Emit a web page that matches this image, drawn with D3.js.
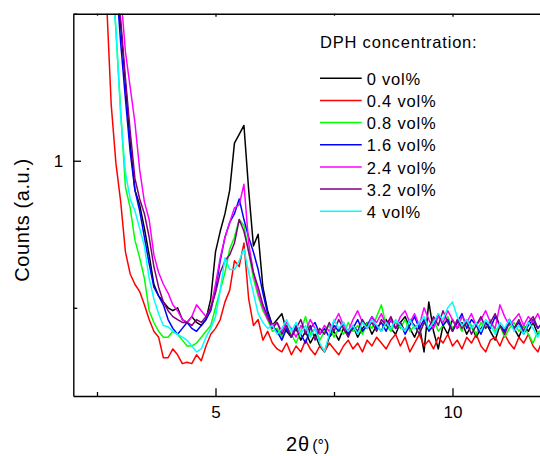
<!DOCTYPE html>
<html>
<head>
<meta charset="utf-8">
<script src="https://cdnjs.cloudflare.com/ajax/libs/d3/7.8.5/d3.min.js"></script>
<style>
  body { margin: 0; background: #fff; }
  svg { display: block; font-family: "Liberation Sans", Arial, sans-serif; }
</style>
</head>
<body>
<svg id="chart" width="540" height="456"></svg>
<script>
// 2theta grid (deg)
var twoTheta = [2.6, 2.7, 2.8, 2.9, 3.0, 3.1, 3.2, 3.3, 3.4, 3.5, 3.6, 3.7, 3.8, 3.9, 4.0, 4.1, 4.2, 4.3, 4.4, 4.5,
  4.6, 4.7, 4.8, 4.9, 5.0, 5.1, 5.2, 5.3, 5.4, 5.5, 5.6, 5.7, 5.8, 5.9, 6.0, 6.1, 6.2, 6.3, 6.4, 6.5,
  6.6, 6.7, 6.8, 6.9, 7.0, 7.1, 7.2, 7.3, 7.4, 7.5, 7.6, 7.7, 7.8, 7.9, 8.0, 8.1, 8.2, 8.3, 8.4, 8.5,
  8.6, 8.7, 8.8, 8.9, 9.0, 9.1, 9.2, 9.3, 9.4, 9.5, 9.6, 9.7, 9.8, 9.9, 10.0, 10.1, 10.2, 10.3, 10.4, 10.5,
  10.6, 10.7, 10.8, 10.9, 11.0, 11.1, 11.2, 11.3, 11.4, 11.5, 11.6, 11.7, 11.8, 11.9];

// counts per DPH concentration
var dph0 = [2.2, 1.95, 1.72, 1.58, 1.46, 1.26, 1.06, 0.90, 0.85, 0.77, 0.68, 0.58, 0.54, 0.52, 0.50, 0.49, 0.50, 0.46, 0.45, 0.47,
  0.45, 0.44, 0.46, 0.53, 0.69, 0.76, 0.82, 0.90, 1.06, 1.09, 1.12, 0.90, 0.71, 0.75, 0.57, 0.49, 0.44, 0.46, 0.48, 0.42,
  0.40, 0.43, 0.39, 0.42, 0.38, 0.41, 0.37, 0.35, 0.40, 0.42, 0.39, 0.43, 0.41, 0.44, 0.40, 0.43, 0.45, 0.41, 0.44, 0.42,
  0.46, 0.43, 0.41, 0.45, 0.47, 0.43, 0.40, 0.44, 0.35, 0.52, 0.42, 0.36, 0.44, 0.41, 0.46, 0.43, 0.45, 0.41, 0.44, 0.40,
  0.43, 0.45, 0.42, 0.39, 0.44, 0.42, 0.46, 0.43, 0.40, 0.44, 0.42, 0.45, 0.41, 0.43];
var dph04 = [1.85, 1.55, 1.19, 0.99, 0.86, 0.69, 0.615, 0.58, 0.555, 0.51, 0.46, 0.42, 0.40, 0.33, 0.33, 0.36, 0.34, 0.31, 0.315, 0.31,
  0.34, 0.32, 0.37, 0.41, 0.43, 0.46, 0.52, 0.56, 0.66, 0.64, 0.72, 0.53, 0.44, 0.46, 0.39, 0.42, 0.38, 0.36, 0.35, 0.38,
  0.34, 0.37, 0.35, 0.39, 0.36, 0.34, 0.37, 0.35, 0.38, 0.36, 0.34, 0.37, 0.39, 0.36, 0.38, 0.35, 0.39, 0.37, 0.40, 0.38,
  0.36, 0.39, 0.41, 0.37, 0.40, 0.35, 0.38, 0.41, 0.37, 0.39, 0.36, 0.40, 0.38, 0.41, 0.37, 0.39, 0.36, 0.40, 0.38, 0.41,
  0.37, 0.35, 0.39, 0.40, 0.37, 0.41, 0.38, 0.36, 0.40, 0.38, 0.41, 0.37, 0.35, 0.39];
var dph08 = [2.2, 1.98, 1.72, 1.44, 1.17, 0.91, 0.84, 0.73, 0.67, 0.60, 0.49, 0.45, 0.42, 0.40, 0.40, 0.42, 0.41, 0.39, 0.37, 0.37,
  0.38, 0.40, 0.42, 0.44, 0.50, 0.56, 0.62, 0.70, 0.74, 0.80, 0.78, 0.69, 0.60, 0.54, 0.49, 0.46, 0.42, 0.43, 0.40, 0.44,
  0.41, 0.38, 0.42, 0.47, 0.41, 0.43, 0.39, 0.42, 0.44, 0.40, 0.43, 0.41, 0.45, 0.42, 0.44, 0.41, 0.45, 0.43, 0.47, 0.51,
  0.44, 0.42, 0.45, 0.43, 0.46, 0.42, 0.44, 0.41, 0.45, 0.43, 0.46, 0.42, 0.44, 0.47, 0.43, 0.45, 0.42, 0.46, 0.44, 0.41,
  0.45, 0.43, 0.46, 0.42, 0.44, 0.40, 0.43, 0.45, 0.42, 0.44, 0.41, 0.38, 0.42, 0.40];
var dph16 = [2.15, 1.95, 1.78, 1.62, 1.40, 1.21, 1.03, 0.90, 0.83, 0.74, 0.65, 0.57, 0.54, 0.51, 0.46, 0.43, 0.41, 0.43, 0.45, 0.43,
  0.42, 0.44, 0.46, 0.49, 0.56, 0.66, 0.74, 0.79, 0.82, 0.87, 0.80, 0.74, 0.69, 0.63, 0.55, 0.48, 0.44, 0.42, 0.39, 0.43,
  0.40, 0.44, 0.41, 0.38, 0.43, 0.45, 0.41, 0.43, 0.40, 0.44, 0.42, 0.45, 0.41, 0.43, 0.46, 0.42, 0.44, 0.47, 0.43, 0.45,
  0.42, 0.46, 0.43, 0.45, 0.41, 0.44, 0.47, 0.43, 0.46, 0.42, 0.44, 0.48, 0.44, 0.46, 0.42, 0.45, 0.48, 0.43, 0.46, 0.44,
  0.41, 0.45, 0.43, 0.47, 0.44, 0.42, 0.46, 0.43, 0.45, 0.41, 0.44, 0.46, 0.43, 0.45];
var dph24 = [2.3, 2.05, 1.85, 1.70, 1.57, 1.37, 1.25, 1.13, 0.97, 0.86, 0.80, 0.68, 0.62, 0.58, 0.55, 0.51, 0.49, 0.46, 0.45, 0.47,
  0.51, 0.49, 0.47, 0.50, 0.58, 0.67, 0.74, 0.79, 0.84, 0.85, 0.92, 0.72, 0.62, 0.55, 0.50, 0.46, 0.44, 0.45, 0.42, 0.45,
  0.43, 0.40, 0.44, 0.42, 0.46, 0.43, 0.41, 0.44, 0.42, 0.45, 0.48, 0.44, 0.42, 0.46, 0.49, 0.45, 0.43, 0.47, 0.45, 0.48,
  0.44, 0.46, 0.43, 0.47, 0.49, 0.45, 0.48, 0.44, 0.50, 0.46, 0.43, 0.47, 0.45, 0.49, 0.46, 0.43, 0.47, 0.45, 0.48, 0.44,
  0.46, 0.49, 0.45, 0.43, 0.51, 0.47, 0.44, 0.46, 0.48, 0.44, 0.47, 0.45, 0.48, 0.44];
var dph32 = [2.15, 1.92, 1.74, 1.61, 1.48, 1.28, 1.10, 0.94, 0.87, 0.82, 0.74, 0.64, 0.57, 0.52, 0.49, 0.47, 0.46, 0.45, 0.45, 0.44,
  0.46, 0.45, 0.47, 0.50, 0.55, 0.62, 0.66, 0.68, 0.72, 0.80, 0.76, 0.69, 0.62, 0.57, 0.51, 0.47, 0.43, 0.45, 0.41, 0.44,
  0.40, 0.43, 0.46, 0.41, 0.44, 0.39, 0.43, 0.41, 0.45, 0.42, 0.46, 0.43, 0.40, 0.44, 0.42, 0.46, 0.43, 0.45, 0.42, 0.46,
  0.44, 0.47, 0.43, 0.45, 0.42, 0.46, 0.44, 0.41, 0.45, 0.43, 0.47, 0.44, 0.49, 0.45, 0.42, 0.46, 0.43, 0.45, 0.41, 0.44,
  0.47, 0.43, 0.45, 0.48, 0.44, 0.41, 0.45, 0.43, 0.46, 0.42, 0.45, 0.47, 0.43, 0.45];
var dph40 = [2.0, 1.78, 1.62, 1.45, 1.15, 0.96, 0.87, 0.83, 0.77, 0.71, 0.60, 0.53, 0.48, 0.44, 0.435, 0.42, 0.41, 0.40, 0.39, 0.37,
  0.35, 0.36, 0.40, 0.43, 0.47, 0.56, 0.67, 0.63, 0.63, 0.66, 0.70, 0.62, 0.55, 0.48, 0.45, 0.43, 0.44, 0.41, 0.43, 0.46,
  0.42, 0.45, 0.41, 0.44, 0.40, 0.43, 0.38, 0.35, 0.41, 0.46, 0.43, 0.45, 0.42, 0.44, 0.41, 0.45, 0.43, 0.46, 0.44, 0.42,
  0.45, 0.43, 0.46, 0.44, 0.42, 0.46, 0.43, 0.45, 0.47, 0.43, 0.45, 0.48, 0.46, 0.50, 0.52, 0.47, 0.44, 0.46, 0.43, 0.45,
  0.42, 0.46, 0.44, 0.41, 0.45, 0.43, 0.46, 0.42, 0.44, 0.41, 0.45, 0.43, 0.40, 0.44];

var seriesLabels = ["0 vol%", "0.4 vol%", "0.8 vol%", "1.6 vol%", "2.4 vol%", "3.2 vol%", "4 vol%"];
var seriesValues = [dph0, dph04, dph08, dph16, dph24, dph32, dph40];
var seriesColors = ["#000000", "#ff0000", "#00ff00", "#0000ff", "#ff00ff", "#800080", "#00ffff"];

var xTicks = [5, 10];
var xMinorTicks = [2.5, 7.5];
var yTicks = [1];
var yMinorTicks = [0.5, 1.5];

var svg = d3.select("#chart");
svg.append("rect").attr("width", 540).attr("height", 456).attr("fill", "#fff");

var x = d3.scaleLinear().domain([2, 12]).range([73.3, 547.3]);
var y = d3.scaleLinear().domain([0.2, 1.5]).range([396, 13.7]);

svg.append("clipPath").attr("id", "plotClip")
  .append("rect")
  .attr("x", x.range()[0]).attr("y", y.range()[1])
  .attr("width", x.range()[1] - x.range()[0])
  .attr("height", y.range()[0] - y.range()[1]);

// curves
var line = d3.line()
  .x((d, i) => x(twoTheta[i]))
  .y((d) => y(d));

var plot = svg.append("g").attr("clip-path", "url(#plotClip)");
seriesValues.forEach((vals, i) => {
  plot.append("path")
    .attr("d", line(vals))
    .attr("fill", "none")
    .attr("stroke", seriesColors[i])
    .attr("stroke-width", 1.5)
    .attr("stroke-linejoin", "round");
});

// axes (ticks point inward)
function styleAxis(g, fontSize) {
  g.select(".domain").attr("stroke", "#000").attr("stroke-width", 1.4);
  g.selectAll(".tick line").attr("stroke", "#000").attr("stroke-width", 1.3);
  g.selectAll(".tick text").attr("fill", "#000").style("font-size", fontSize + "px")
    .style("font-family", "'Liberation Sans', Arial, sans-serif");
}

var bottomAxis = svg.append("g").attr("transform", "translate(0,396)")
  .call(d3.axisBottom(x).tickValues(xTicks).tickSize(-7.7).tickSizeOuter(0).tickPadding(10));
styleAxis(bottomAxis, 17);
var bottomMinor = svg.append("g").attr("transform", "translate(0,396)")
  .call(d3.axisBottom(x).tickValues(xMinorTicks).tickSize(-4).tickFormat(""));
styleAxis(bottomMinor, 17);
bottomMinor.select(".domain").remove();

var topAxis = svg.append("g").attr("transform", "translate(0,13.7)")
  .call(d3.axisTop(x).tickValues(xTicks).tickSize(-3).tickSizeOuter(0).tickFormat(""));
styleAxis(topAxis, 17);
var topMinor = svg.append("g").attr("transform", "translate(0,13.7)")
  .call(d3.axisTop(x).tickValues(xMinorTicks).tickSize(-2).tickFormat(""));
styleAxis(topMinor, 17);
topMinor.select(".domain").remove();

var leftAxis = svg.append("g").attr("transform", "translate(73.3,0)")
  .call(d3.axisLeft(y).tickValues(yTicks).tickSize(-7.7).tickSizeOuter(0).tickPadding(10).tickFormat(d3.format("d")));
styleAxis(leftAxis, 17);
var leftMinor = svg.append("g").attr("transform", "translate(73.3,0)")
  .call(d3.axisLeft(y).tickValues(yMinorTicks).tickSize(-4).tickFormat(""));
styleAxis(leftMinor, 17);
leftMinor.select(".domain").remove();

// axis titles
svg.append("text")
  .attr("transform", "translate(29,220) rotate(-90)")
  .attr("text-anchor", "middle")
  .style("font-size", "20px")
  .style("letter-spacing", "0.6px")
  .text("Counts (a.u.)");

var xTitle = svg.append("text")
  .attr("x", 286).attr("y", 451);
xTitle.append("tspan").style("font-size", "20px").style("letter-spacing", "1px").text("2θ");
xTitle.append("tspan").attr("dx", 2).style("font-size", "16px").text("(°)");

// legend
var legend = svg.append("g").attr("transform", "translate(320,0)");
legend.append("text")
  .attr("x", 0).attr("y", 48.3)
  .style("font-size", "16.5px").style("letter-spacing", "0.8px")
  .text("DPH concentration:");

seriesLabels.forEach((label, i) => {
  var ly = 78.3 + i * 22.15;
  legend.append("line")
    .attr("x1", 0).attr("x2", 41.7)
    .attr("y1", ly).attr("y2", ly)
    .attr("stroke", seriesColors[i]).attr("stroke-width", 1.5);
  legend.append("text")
    .attr("x", 46.7).attr("y", ly + 6.7)
    .style("font-size", "16.5px").style("letter-spacing", "0.8px")
    .text(label);
});
</script>
</body>
</html>
